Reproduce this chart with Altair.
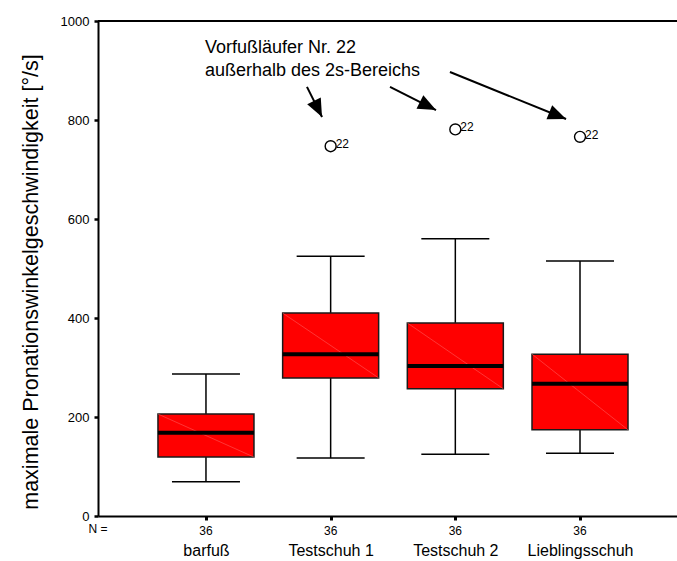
import math
import altair as alt
import pandas as pd

# ---------------- data ----------------
categories = ["barfuß", "Testschuh 1", "Testschuh 2", "Lieblingsschuh"]
positions = [1, 2, 3, 4]
n_values = [36, 36, 36, 36]
whisker_low = [69, 117, 125, 127]
q1 = [119, 279, 257, 174]
median = [168, 327, 303, 267]
q3 = [206, 410, 390, 327]
whisker_high = [287, 525, 560, 515]

outlier_pos = [2, 3, 4]
outlier_val = [747, 781, 766]
outlier_lab = ["22", "22", "22"]

annot_text = ["Vorfußläufer Nr. 22", "außerhalb des 2s-Bereichs"]
annot_x = [0.992]
annot_y = [935]

arrow_x1 = [1.810, 2.476, 2.957]
arrow_y1 = [867, 867, 897]
arrow_x2 = [1.931, 2.845, 3.888]
arrow_y2 = [806, 820, 802]

y_ticks = [0, 200, 400, 600, 800, 1000]

# ---------------- layout ----------------
W, H = 579, 495
x_domain = [0.134, 4.778]
y_domain = [0, 1000]
kx = W / (x_domain[1] - x_domain[0])
ky = H / (y_domain[1] - y_domain[0])
box_half = 48 / kx
FONT = "Liberation Sans"

box_df = pd.DataFrame({
    "cat": categories, "pos": positions, "n": n_values,
    "lo": whisker_low, "q1": q1, "med": median, "q3": q3, "hi": whisker_high,
})
out_df = pd.DataFrame({"pos": outlier_pos, "val": outlier_val, "lab": outlier_lab})
ann_df = pd.DataFrame({"x": annot_x, "y": annot_y, "t": ["\n".join(annot_text)]})
angles = []
for xa, ya, xb, yb in zip(arrow_x1, arrow_y1, arrow_x2, arrow_y2):
    dx = (xb - xa) * kx
    dy = -(yb - ya) * ky
    angles.append(math.degrees(math.atan2(dx, -dy)) % 360)
arr_df = pd.DataFrame({"x1": arrow_x1, "y1": arrow_y1, "x2": arrow_x2,
                       "y2": arrow_y2, "ang": angles})

xscale = alt.Scale(domain=x_domain, nice=False, zero=False)
yscale = alt.Scale(domain=y_domain, nice=False)

label_expr = " : ".join(
    f"datum.value == {p} ? '{c}'" for p, c in zip(positions, categories)
) + " : ''"

x_axis = alt.Axis(values=positions, labelExpr=label_expr, title=None,
                  labelFontSize=16, labelFont=FONT, labelColor="black",
                  tickSize=4, tickWidth=3, tickColor="black",
                  domainColor="black", domainWidth=2, labelPadding=22,
                  grid=False)
y_axis = alt.Axis(values=y_ticks, format="d",
                  title="maximale Pronationswinkelgeschwindigkeit [°/s]",
                  titleFont=FONT, titleFontSize=21.5, titleFontWeight="normal",
                  titleColor="black", titlePadding=18, titleY=H / 2 + 13,
                  labelFontSize=13, labelFont=FONT, labelColor="black",
                  tickSize=4, tickWidth=2.5, tickColor="black",
                  domainColor="black", domainWidth=2, labelPadding=5, grid=False)

base = alt.Chart(box_df)

whisk = base.mark_rule(color="black", strokeWidth=1.5).encode(
    x=alt.X("pos:Q", scale=xscale, axis=x_axis),
    y=alt.Y("lo:Q", scale=yscale, axis=y_axis),
    y2="hi:Q",
)
cap_lo = base.mark_tick(orient="horizontal", color="black", size=68, thickness=1.5,
                        opacity=1).encode(x="pos:Q", y="lo:Q")
cap_hi = base.mark_tick(orient="horizontal", color="black", size=68, thickness=1.5,
                        opacity=1).encode(x="pos:Q", y="hi:Q")
box = base.transform_calculate(
    bx1=f"datum.pos - {box_half}", bx2=f"datum.pos + {box_half}"
).mark_rect(fill="#ff0000", stroke="#1a1a1a", strokeWidth=1.5, opacity=1).encode(
    x="bx1:Q", x2="bx2:Q", y="q1:Q", y2="q3:Q")
diag = base.transform_calculate(
    bx1=f"datum.pos - {box_half}", bx2=f"datum.pos + {box_half}"
).mark_rule(color="#ff6a6a", strokeWidth=0.5).encode(
    x="bx1:Q", x2="bx2:Q", y="q3:Q", y2="q1:Q")
med = base.mark_tick(orient="horizontal", color="black", size=96, thickness=4,
                     opacity=1).encode(x="pos:Q", y="med:Q")
ntext = base.mark_text(font=FONT, fontSize=12, baseline="middle", dy=15, color="black").encode(
    x="pos:Q", y=alt.datum(0), text="n:Q")
nlabel = alt.Chart(pd.DataFrame({"t": ["N ="]})).mark_text(
    font=FONT, fontSize=12, baseline="middle", dy=13, dx=0, color="black").encode(
    x=alt.datum(x_domain[0]), y=alt.datum(0), text="t:N")
top_line = alt.Chart(pd.DataFrame({"v": [1000]})).mark_rule(color="black", strokeWidth=2).encode(
    y="v:Q")

outl = alt.Chart(out_df).mark_point(shape="circle", filled=False, color="black",
                                    size=120, strokeWidth=1.4, opacity=1).encode(
    x="pos:Q", y="val:Q")
outl_t = alt.Chart(out_df).mark_text(font=FONT, fontSize=12, align="left",
                                     baseline="middle", dx=5, dy=-2, color="black").encode(
    x="pos:Q", y="val:Q", text="lab:N")

ann = alt.Chart(ann_df).mark_text(font=FONT, fontSize=18, align="left",
                                  baseline="alphabetic", lineBreak="\n",
                                  lineHeight=23, color="black").encode(
    x="x:Q", y="y:Q", text="t:N")
shaft = alt.Chart(arr_df).mark_rule(color="black", strokeWidth=2).encode(
    x="x1:Q", y="y1:Q", x2="x2:Q", y2="y2:Q")
head = alt.Chart(arr_df).mark_point(shape="M0,0 L-0.42,1 L0.42,1 Z", filled=True,
                                    color="black", opacity=1, size=1300,
                                    strokeWidth=0).encode(
    x="x2:Q", y="y2:Q", angle=alt.Angle("ang:Q", scale=None))

chart = alt.layer(
    top_line, whisk, cap_lo, cap_hi, box, diag, med, ntext, nlabel,
    outl, outl_t, ann, shaft, head
).properties(
    width=W, height=H,
    autosize=alt.AutoSizeParams(type="none"),
    padding={"left": 98, "top": 21, "right": 0, "bottom": 45},
).configure_view(stroke=None).configure(background="white")

chart.save("out.html", embed_options={"renderer": "svg", "actions": False})
